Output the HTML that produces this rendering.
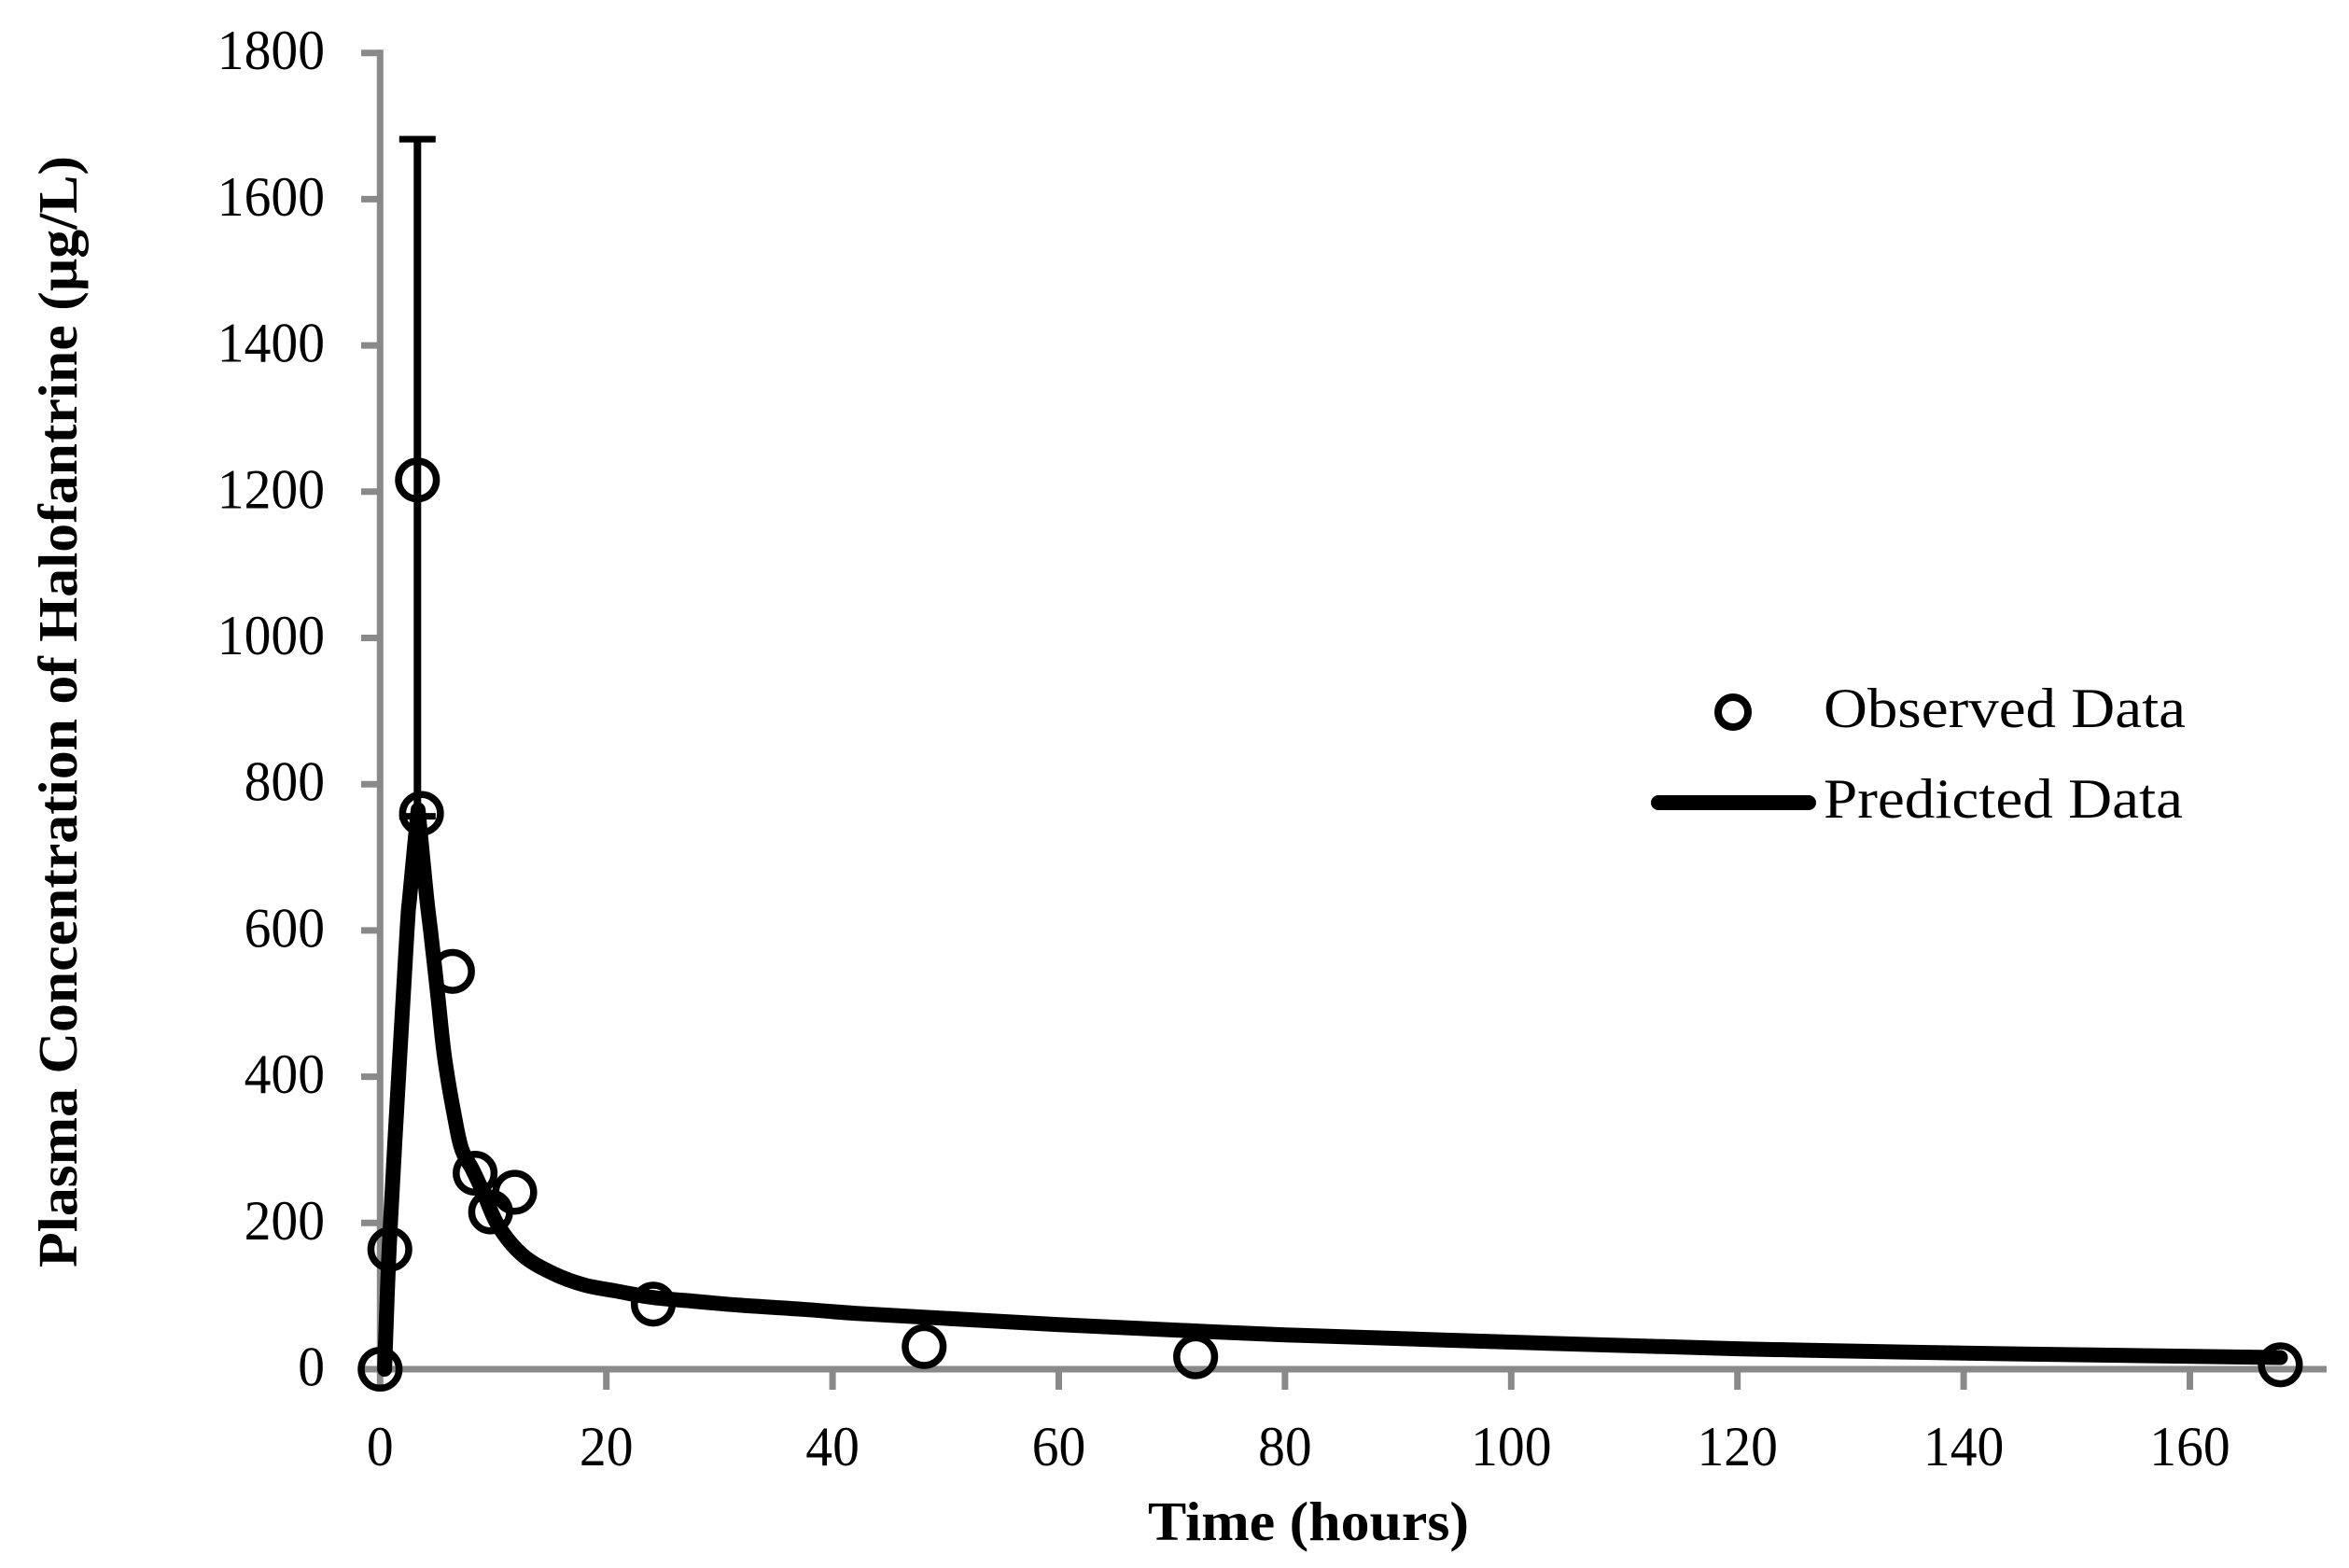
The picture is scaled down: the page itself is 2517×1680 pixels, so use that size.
<!DOCTYPE html>
<html>
<head>
<meta charset="utf-8">
<title>Plasma Concentration of Halofantrine</title>
<style>
html,body{margin:0;padding:0;background:#fff;width:2517px;height:1680px;overflow:hidden}
svg{display:block}
text{font-family:"Liberation Serif",serif;fill:#000}
</style>
</head>
<body>
<svg id="chart" xmlns="http://www.w3.org/2000/svg" width="2517" height="1680" viewBox="0 0 2517 1680">
  <rect x="0" y="0" width="2517" height="1680" fill="#fff"/>
  <g id="axes"></g>
  <g id="observed"></g>
  <g id="errors"></g>
  <g id="predicted"></g>
  <text x="1230" y="1650" font-size="59" font-weight="bold" textLength="344" lengthAdjust="spacingAndGlyphs">Time (hours)</text>
  <text transform="translate(82 1358) rotate(-90)" font-size="59" font-weight="bold" textLength="1191" lengthAdjust="spacingAndGlyphs">Plasma Concentration of Halofantrine (µg/L)</text>
  <g>
    <circle cx="1857" cy="763" r="16" fill="none" stroke="#000" stroke-width="8"/>
    <text x="1954" y="779" font-size="60" textLength="388" lengthAdjust="spacingAndGlyphs">Observed Data</text>
    <line x1="1777" y1="860" x2="1938" y2="860" stroke="#000" stroke-width="16" stroke-linecap="round"/>
    <text x="1954" y="876" font-size="60" textLength="385" lengthAdjust="spacingAndGlyphs">Predicted Data</text>
  </g>
</svg>
<script>
const xTicks = [0, 20, 40, 60, 80, 100, 120, 140, 160];
const yTicks = [0, 200, 400, 600, 800, 1000, 1200, 1400, 1600, 1800];
const observedTimes = [0, 0.86, 3.3, 3.66, 6.4, 8.4, 9.77, 11.9, 24.15, 48.1, 72.1, 168];
const observedValues = [0, 164, 1216, 760, 544, 268, 215, 242, 89, 31, 17, 6];
const errorTimes = [3.3];
const errorCenters = [1219];
const errorAmounts = [463];
const predictedTimes = [0.4, 0.5, 0.8, 1.27, 2.37, 2.62, 3.36, 4.1, 4.49, 5.1, 5.7, 6.63, 7.24, 8.2, 9.2, 10.45, 12.6, 15.3, 18.1, 20.85, 24.15, 27.7, 31.8, 37.35, 42, 49.5, 60, 80, 100, 120, 140, 168];
const predictedValues = [0, 47, 164, 302, 596, 647, 765, 647, 596, 511, 426, 341, 300, 272, 239, 196, 156, 131, 115, 107, 98, 93, 87.5, 82, 76.5, 70, 61, 47, 37, 28, 22, 16];

const NS = 'http://www.w3.org/2000/svg';
const X0 = 407.3, PX_PER_HOUR = 12.12;
const Y0 = 1467, PX_PER_UNIT = 156.7 / 200;
const AXIS = '#898989';
const DIGIT_WIDTH = 28.8;
function xScale(t) { return X0 + t * PX_PER_HOUR; }
function yScale(v) { return Y0 - v * PX_PER_UNIT; }
function make(tag, parent, attrs, txt) {
  const el = document.createElementNS(NS, tag);
  for (const k in attrs) el.setAttribute(k, attrs[k]);
  if (txt !== undefined) el.textContent = txt;
  parent.appendChild(el);
  return el;
}
const axes = document.getElementById('axes');
const observed = document.getElementById('observed');
const errors = document.getElementById('errors');
const predicted = document.getElementById('predicted');

const yAxisLine = make('line', axes, {x1: X0, y1: yScale(1800) - 3.5, x2: X0, y2: Y0 + 3.5, stroke: AXIS, 'stroke-width': 7});


const xAxisLine = make('line', axes, {x1: X0 - 3.5, y1: Y0, x2: 2493, y2: Y0, stroke: AXIS, 'stroke-width': 7});



yTicks.forEach(function (v) {
  const s = String(v);
  const tick = make('line', axes, {x1: 387, y1: yScale(v), x2: X0, y2: yScale(v), stroke: AXIS, 'stroke-width': 7});
  
  
  const label = make('text', axes, {x: 348, y: yScale(v) + 17.5, 'text-anchor': 'end', 'font-size': 60, textLength: s.length * DIGIT_WIDTH, lengthAdjust: 'spacingAndGlyphs'}, s);
  
  
});
xTicks.forEach(function (t) {
  const s = String(t);
  const tick = make('line', axes, {x1: xScale(t), y1: Y0, x2: xScale(t), y2: 1489, stroke: AXIS, 'stroke-width': 7});
  
  
  const label = make('text', axes, {x: xScale(t), y: 1570, 'text-anchor': 'middle', 'font-size': 60, textLength: s.length * DIGIT_WIDTH, lengthAdjust: 'spacingAndGlyphs'}, s);
  
  
});

observedTimes.forEach(function (t, i) {
  const point = make('circle', observed, {cx: xScale(t), cy: yScale(observedValues[i]), r: 20.3, fill: 'none', stroke: '#000', 'stroke-width': 7.5});
  
  
});

errorTimes.forEach(function (t, i) {
  const x = xScale(t);
  const top = yScale(errorCenters[i] + errorAmounts[i]);
  const bottom = yScale(errorCenters[i] - errorAmounts[i]);
  const stem = make('line', errors, {x1: x, y1: top, x2: x, y2: bottom, stroke: '#000', 'stroke-width': 8});
  
  
  const capTop = make('line', errors, {x1: x - 19.5, y1: top, x2: x + 19.5, y2: top, stroke: '#000', 'stroke-width': 7});
  
  
  const capBottom = make('line', errors, {x1: x - 19.5, y1: bottom, x2: x + 19.5, y2: bottom, stroke: '#000', 'stroke-width': 7});
  
  
});

// Smooth each side of the peak separately so the apex stays a cusp.
function smoothRun(pts) {
  let d = '';
  for (let i = 0; i < pts.length - 1; i++) {
    const p0 = pts[Math.max(i - 1, 0)], p1 = pts[i], p2 = pts[i + 1], p3 = pts[Math.min(i + 2, pts.length - 1)];
    const c1x = p1[0] + (p2[0] - p0[0]) / 6, c1y = p1[1] + (p2[1] - p0[1]) / 6;
    const c2x = p2[0] - (p3[0] - p1[0]) / 6, c2y = p2[1] - (p3[1] - p1[1]) / 6;
    d += ' C' + c1x.toFixed(1) + ' ' + c1y.toFixed(1) + ' ' + c2x.toFixed(1) + ' ' + c2y.toFixed(1) + ' ' + p2[0].toFixed(1) + ' ' + p2[1].toFixed(1);
  }
  return d;
}
const curvePts = predictedTimes.map(function (t, i) { return [xScale(t), yScale(predictedValues[i])]; });
const peakIndex = predictedValues.indexOf(Math.max.apply(null, predictedValues));
const curveD = 'M' + curvePts[0][0].toFixed(1) + ' ' + curvePts[0][1].toFixed(1) +
  smoothRun(curvePts.slice(0, peakIndex + 1)) + smoothRun(curvePts.slice(peakIndex));
const curve = make('path', predicted, {d: curveD, fill: 'none', stroke: '#000', 'stroke-width': 16, 'stroke-linejoin': 'round', 'stroke-linecap': 'round'});


</script>
</body>
</html>
